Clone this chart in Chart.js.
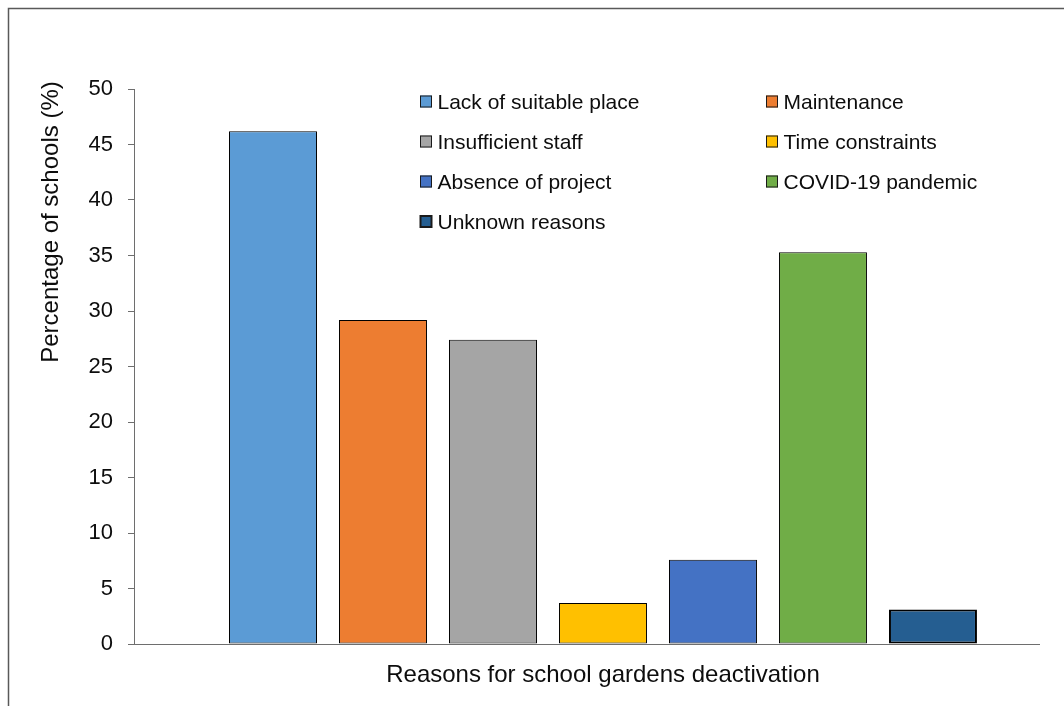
<!DOCTYPE html>
<html>
<head>
<meta charset="utf-8">
<script src="https://cdn.jsdelivr.net/npm/chart.js@4/dist/chart.umd.min.js"></script>
<style>
  html, body { margin: 0; padding: 0; background: #ffffff; }
  #wrap { width: 1064px; height: 706px; }
</style>
</head>
<body>
<div id="wrap"><canvas id="c" width="1064" height="706"></canvas></div>
<script>
// Reasons for deactivating school gardens (percentage of schools)
const categories = [
  'Lack of suitable place',
  'Maintenance',
  'Insufficient staff',
  'Time constraints',
  'Absence of project',
  'COVID-19 pandemic',
  'Unknown reasons'
];
const values = [46.2, 29.2, 27.4, 3.7, 7.6, 35.3, 3.1];
const colors = ['#5B9BD5', '#ED7D31', '#A5A5A5', '#FFC000', '#4472C4', '#70AD47', '#255E91'];
const borderWidths = [1, 1, 1, 1, 1, 1, 2];
const yTickValues = [0, 5, 10, 15, 20, 25, 30, 35, 40, 45, 50];
const yTitle = 'Percentage of schools (%)';
const xTitle = 'Reasons for school gardens deactivation';

const FONT = '"Liberation Sans", Arial, Helvetica, sans-serif';
const TEXT = '#0d0d0d';
const AXIS = '#6e6e6e';

Chart.defaults.font.family = FONT;
Chart.defaults.color = TEXT;

// Outer frame, axis titles and the two-column key
const decorations = {
  id: 'decorations',
  beforeDraw(chart) {
    const ctx = chart.ctx;
    ctx.save();
    ctx.fillStyle = '#ffffff';
    ctx.fillRect(0, 0, chart.width, chart.height);
    ctx.strokeStyle = '#595959';
    ctx.lineWidth = 1.5;
    ctx.strokeRect(8.5, 8.5, chart.width + 40, chart.height + 40);
    ctx.restore();
  },
  afterDraw(chart) {
    const ctx = chart.ctx;
    ctx.save();
    ctx.fillStyle = TEXT;
    ctx.font = '24px ' + FONT;

    // y-axis title
    ctx.save();
    ctx.translate(58, 222);
    ctx.rotate(-Math.PI / 2);
    ctx.textAlign = 'center';
    ctx.textBaseline = 'alphabetic';
    ctx.fillText(yTitle, 0, 0);
    ctx.restore();

    // x-axis title
    ctx.textAlign = 'center';
    ctx.textBaseline = 'alphabetic';
    ctx.fillText(xTitle, 603, 682);

    // key: two columns, filled row by row
    const colX = [420, 766];
    const rowCenter = 101.5, rowStep = 40;
    ctx.font = '21px ' + FONT;
    ctx.textAlign = 'left';
    chart.data.datasets.forEach((ds, i) => {
      const bx = colX[i % 2];
      const cy = rowCenter + Math.floor(i / 2) * rowStep;
      ctx.fillStyle = ds.backgroundColor;
      ctx.fillRect(bx, cy - 6, 12, 12);
      ctx.strokeStyle = '#1a1a1a';
      ctx.lineWidth = ds.borderWidth > 1 ? 2 : 1;
      ctx.strokeRect(bx + 0.5, cy - 5.5, 11, 11);
      ctx.fillStyle = TEXT;
      ctx.fillText(ds.label, bx + 17.5, cy + 7.5);
    });
    ctx.restore();
  }
};

new Chart(document.getElementById('c'), {
  type: 'bar',
  data: {
    datasets: categories.map((name, i) => ({
      label: name,
      data: [{ x: i, y: values[i] }],
      backgroundColor: colors[i],
      borderColor: '#000000',
      borderWidth: borderWidths[i],
      borderSkipped: false,
      grouped: false,
      categoryPercentage: 1,
      barPercentage: 0.8
    }))
  },
  options: {
    responsive: false,
    animation: false,
    devicePixelRatio: 1,
    layout: { padding: { top: 89, right: 25, bottom: 0, left: 0 } },
    plugins: {
      legend: { display: false },
      tooltip: { enabled: false },
      title: { display: false }
    },
    scales: {
      x: {
        type: 'linear',
        offset: false,
        min: -1.2636,
        max: 6.964,
        ticks: { display: false, stepSize: 1, includeBounds: false },
        grid: { display: false, offset: false },
        border: { display: true, color: AXIS, width: 1 },
        afterFit(scale) { scale.height = 62; }
      },
      y: {
        min: 0,
        max: 50,
        afterBuildTicks(scale) { scale.ticks = yTickValues.map(v => ({ value: v })); },
        ticks: { font: { size: 22 }, color: TEXT, padding: 15 },
        grid: { drawOnChartArea: false, drawTicks: true, tickLength: 6, color: AXIS, lineWidth: 1 },
        border: { display: true, color: AXIS, width: 1 },
        afterFit(scale) { scale.width = 134; }
      }
    }
  },
  plugins: [decorations]
});
</script>
</body>
</html>
